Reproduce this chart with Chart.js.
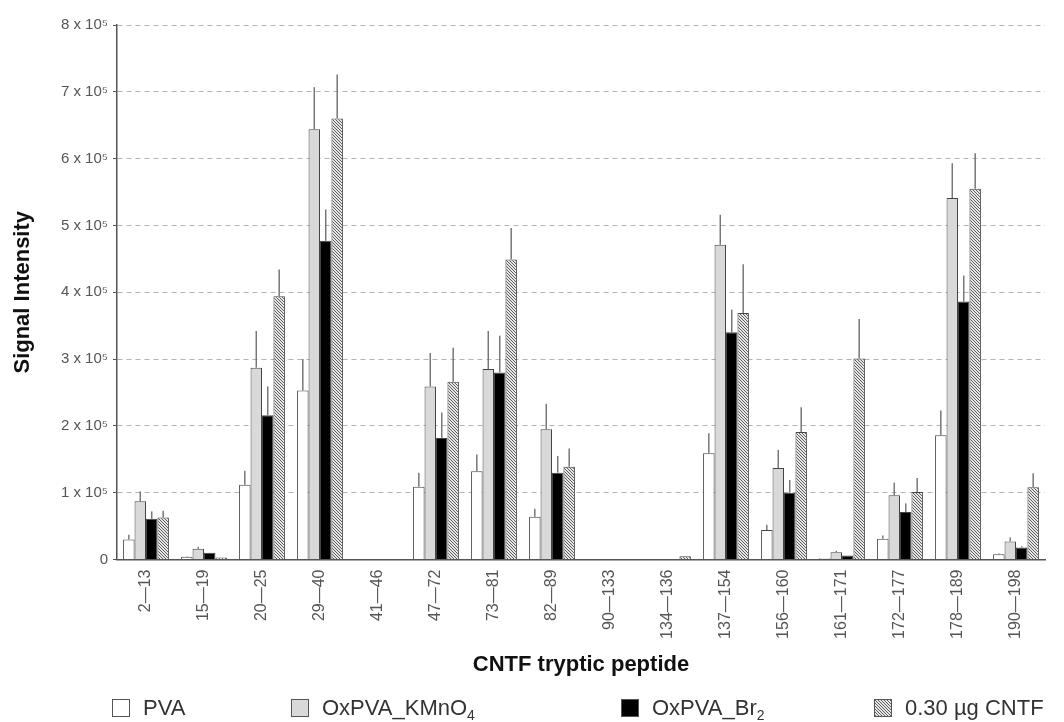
<!DOCTYPE html>
<html>
<head>
<meta charset="utf-8">
<script src="https://cdn.jsdelivr.net/npm/chart.js@4.4.1/dist/chart.umd.min.js"></script>
<style>
  body { margin: 0; background: #fff; }
  #wrap { position: relative; width: 1064px; height: 722px; }
  #legend { position: absolute; left: 0; top: 696px; width: 1064px; height: 24px;
            font-family: "Liberation Sans", Arial, sans-serif; font-size: 22px; color: #333; }
  .item { position: absolute; top: 0; display: flex; align-items: center; white-space: nowrap; height: 24px; }
  .box { width: 18px; height: 18px; border: 1px solid #555; box-sizing: border-box; margin-right: 13px; }
  .item sub { font-size: 14px; vertical-align: -5px; line-height: 0; }
</style>
</head>
<body>
<div id="wrap">
  <canvas id="barChart" width="1064" height="722"></canvas>
  <div id="legend"></div>
</div>
<script>
// CNTF tryptic peptides (x categories)
const peptides = ["2—13", "15—19", "20—25", "29—40", "41—46", "47—72", "73—81", "82—89",
                  "90—133", "134—136", "137—154", "156—160", "161—171", "172—177", "178—189", "190—198"];
const seriesNames = ["PVA", "OxPVA_KMnO₄", "OxPVA_Br₂", "0.30 µg CNTF"];

// signal intensity, in units of 10^5
const pva    = [0.30, 0.04, 1.12, 2.53, 0, 1.09, 1.32, 0.64, 0, 0,    1.59, 0.44, 0.02, 0.31, 1.86, 0.08];
const kmno4  = [0.87, 0.16, 2.87, 6.44, 0, 2.59, 2.85, 1.95, 0, 0,    4.71, 1.37, 0.11, 0.96, 5.41, 0.27];
const br2    = [0.61, 0.10, 2.16, 4.77, 0, 1.82, 2.80, 1.30, 0, 0,    3.40, 1.00, 0.06, 0.71, 3.86, 0.18];
const cntf   = [0.63, 0.03, 3.94, 6.60, 0, 2.66, 4.49, 1.39, 0, 0.05, 3.69, 1.91, 3.01, 1.01, 5.55, 1.08];

// upward error bars (same units)
const pvaErr   = [0.07, 0.01, 0.21, 0.47, 0, 0.21, 0.25, 0.12, 0, 0, 0.30, 0.08, 0,    0.05, 0.37, 0.01];
const kmno4Err = [0.15, 0.03, 0.55, 0.63, 0, 0.50, 0.57, 0.38, 0, 0, 0.45, 0.27, 0.02, 0.19, 0.52, 0.06];
const br2Err   = [0.11, 0,    0.43, 0.47, 0, 0.38, 0.55, 0.25, 0, 0, 0.34, 0.19, 0,    0.13, 0.39, 0.02];
const cntfErr  = [0.10, 0,    0.40, 0.66, 0, 0.51, 0.47, 0.27, 0, 0, 0.73, 0.37, 0.59, 0.21, 0.53, 0.21];

const yTicks = [0, 1, 2, 3, 4, 5, 6, 7, 8];

const FONT = "'Liberation Sans', Arial, sans-serif";

function makeHatch() {
    const c = document.createElement("canvas");
    c.width = 3; c.height = 3;
    const g = c.getContext("2d");
    g.fillStyle = "#e8e8e8";
    g.fillRect(0, 0, 3, 3);
    g.strokeStyle = "#4a4a4a";
    g.lineWidth = 0.9;
    g.beginPath();
    g.moveTo(-1, -1); g.lineTo(4, 4);
    g.moveTo(2, -1); g.lineTo(4, 1);
    g.moveTo(-1, 2); g.lineTo(1, 4);
    g.stroke();
    return c;
}

const hatchTile = makeHatch();
const ctx = document.getElementById("barChart").getContext("2d");
const hatch = ctx.createPattern(hatchTile, "repeat");

// draws the upward error lines on top of each bar
const errorBars = {
    id: "errorBars",
    afterDatasetsDraw(chart) {
        const c = chart.ctx;
        const y = chart.scales.y;
        c.save();
        c.strokeStyle = "#777";
        c.lineWidth = 1.5;
        chart.data.datasets.forEach((ds, i) => {
            chart.getDatasetMeta(i).data.forEach((bar, j) => {
                const e = ds.errors[j];
                if (!e) return;
                c.beginPath();
                c.moveTo(bar.x, y.getPixelForValue(ds.data[j]));
                c.lineTo(bar.x, y.getPixelForValue(ds.data[j] + e));
                c.stroke();
            });
        });
        c.restore();
    }
};

const fills = ["#ffffff", "#d9d9d9", "#000000", hatch];
const values = [pva, kmno4, br2, cntf];
const errors = [pvaErr, kmno4Err, br2Err, cntfErr];

const chart = new Chart(ctx, {
    type: "bar",
    data: {
        labels: peptides,
        datasets: seriesNames.map((name, i) => ({
            label: name,
            data: values[i],
            errors: errors[i],
            backgroundColor: fills[i],
            borderColor: "#444",
            borderWidth: 1,
            barPercentage: 1,
            categoryPercentage: 0.79
        }))
    },
    options: {
        responsive: false,
        animation: false,
        devicePixelRatio: 1,
        layout: { padding: { top: 25, right: 19, bottom: 40, left: 0 } },
        plugins: {
            legend: { display: false },
            tooltip: { enabled: false }
        },
        scales: {
            x: {
                grid: { display: false, drawTicks: false },
                border: { display: true, color: "#555", width: 1.5 },
                ticks: {
                    minRotation: 90, maxRotation: 90, padding: 10, autoSkip: false,
                    color: "#555", font: { family: FONT, size: 16 }
                },
                title: {
                    display: true, text: "CNTF tryptic peptide", color: "#111",
                    font: { family: FONT, size: 22, weight: "bold" },
                    padding: { top: 4, bottom: 4 }
                },
                afterFit(scale) { scale.height = 122.5; }
            },
            y: {
                min: 0, max: 8,
                afterBuildTicks(scale) { scale.ticks = yTicks.map(v => ({ value: v })); },
                grid: { color: "#b3b3b3", tickColor: "#555", tickLength: 4 },
                border: { display: true, color: "#555", width: 1.5, dash: [5, 4] },
                ticks: {
                    padding: 5, color: "#555", font: { family: FONT, size: 15 },
                    callback: v => v === 0 ? "0" : v + " x 10⁵"
                },
                title: {
                    display: true, text: "Signal Intensity", color: "#111",
                    font: { family: FONT, size: 22, weight: "bold" },
                    padding: { top: 10, bottom: 0 }
                },
                afterFit(scale) { scale.width = 117; }
            }
        }
    },
    plugins: [errorBars]
});

// legend below the chart, built from the datasets
const legendX = [112, 291, 621, 874];
const legend = document.getElementById("legend");
chart.data.datasets.forEach((ds, i) => {
    const item = document.createElement("div");
    item.className = "item";
    item.style.left = legendX[i] + "px";
    const box = document.createElement("div");
    box.className = "box";
    if (i === 3) box.style.background = "url(" + hatchTile.toDataURL() + ")";
    else box.style.background = ds.backgroundColor;
    const txt = document.createElement("span");
    txt.innerHTML = ds.label.replace("₄", "<sub>4</sub>").replace("₂", "<sub>2</sub>");
    item.appendChild(box);
    item.appendChild(txt);
    legend.appendChild(item);
});
</script>
</body>
</html>
